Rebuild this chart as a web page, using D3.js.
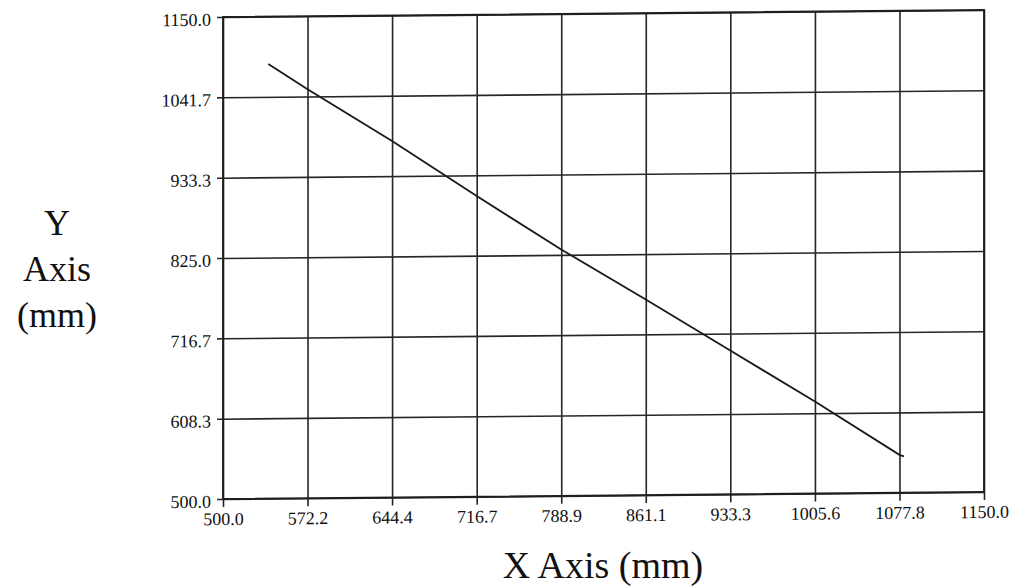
<!DOCTYPE html>
<html>
<head>
<meta charset="utf-8">
<script src="https://cdn.jsdelivr.net/npm/d3@7"></script>
<style>
  body { margin: 0; background: #fff; }
  svg { display: block; font-family: "Liberation Serif", "DejaVu Serif", serif; }
  .tick text { fill: #111; }
</style>
</head>
<body>
<div id="chart"></div>
<script>
var width = 761,
    height = 482;

// tick values along both axes (mm)
var xTicks = [500.0, 572.2, 644.4, 716.7, 788.9, 861.1, 933.3, 1005.6, 1077.8, 1150.0];
var yTicks = [500.0, 608.3, 716.7, 825.0, 933.3, 1041.7, 1150.0];

// traced line
var lineX = [538.7, 572.2, 644.4, 716.7, 788.9, 861.1, 933.3, 1005.6, 1077.8, 1081.6];
var lineY = [1086.0, 1051.6, 980.8, 905.4, 832.3, 763.7, 693.8, 624.2, 551.1, 548.9];

var svg = d3.select('#chart')
    .append('svg')
    .attr('width', 1021)
    .attr('height', 587);

// the scanned original is slightly skewed
var plot = svg.append('g')
    .attr('transform', 'translate(223,17) skewY(-0.53)');

var xScale = d3.scaleLinear().domain([500, 1150]).range([0, width]);
var yScale = d3.scaleLinear().domain([500, 1150]).range([height, 0]);

// grid
plot.append('g')
    .attr('class', 'grid')
    .attr('transform', 'translate(0,' + height + ')')
    .call(d3.axisBottom(xScale).tickValues(xTicks).tickSize(-height).tickFormat(''))
    .call(g => g.select('.domain').remove());

plot.append('g')
    .attr('class', 'grid')
    .call(d3.axisLeft(yScale).tickValues(yTicks).tickSize(-width).tickFormat(''))
    .call(g => g.select('.domain').remove());

plot.selectAll('.grid line')
    .attr('stroke', '#262626')
    .attr('stroke-width', 1.6);

// axes
var xAxis = plot.append('g')
    .attr('transform', 'translate(0,' + height + ')')
    .call(d3.axisBottom(xScale).tickValues(xTicks).tickSize(8).tickSizeOuter(0)
        .tickFormat(d => d.toFixed(1)));
xAxis.select('.domain').remove();
xAxis.attr('font-family', null).attr('font-size', null);
xAxis.selectAll('.tick text')
    .attr('y', 26)
    .attr('dy', 0)
    .style('font-size', '18px');

var yAxis = plot.append('g')
    .call(d3.axisLeft(yScale).tickValues(yTicks).tickSize(6).tickSizeOuter(0).tickPadding(6)
        .tickFormat(d => d.toFixed(1)));
yAxis.select('.domain').remove();
yAxis.attr('font-family', null).attr('font-size', null);
yAxis.selectAll('.tick text')
    .attr('dy', '0.45em')
    .style('font-size', '18px');

plot.selectAll('.tick line')
    .attr('stroke', '#262626')
    .attr('stroke-width', 1.6);

// frame
plot.append('rect')
    .attr('x', 0)
    .attr('y', 0)
    .attr('width', width)
    .attr('height', height)
    .attr('fill', 'none')
    .attr('stroke', '#1e1e1e')
    .attr('stroke-width', 1.8);

// the line
var line = d3.line()
    .x((d, i) => xScale(lineX[i]))
    .y((d, i) => yScale(lineY[i]));

plot.append('path')
    .datum(lineX)
    .attr('d', line)
    .attr('fill', 'none')
    .attr('stroke', '#1a1a1a')
    .attr('stroke-width', 1.8);

// axis titles
svg.append('text')
    .attr('x', 603)
    .attr('y', 578)
    .attr('text-anchor', 'middle')
    .style('font-size', '38px')
    .style('fill', '#111')
    .text('X Axis (mm)');

var yTitle = svg.append('text')
    .attr('text-anchor', 'middle')
    .style('font-size', '36px')
    .style('fill', '#111');
['Y', 'Axis', '(mm)'].forEach(function (t, i) {
    yTitle.append('tspan')
        .attr('x', 57)
        .attr('y', 235 + i * 46)
        .text(t);
});
</script>
</body>
</html>
